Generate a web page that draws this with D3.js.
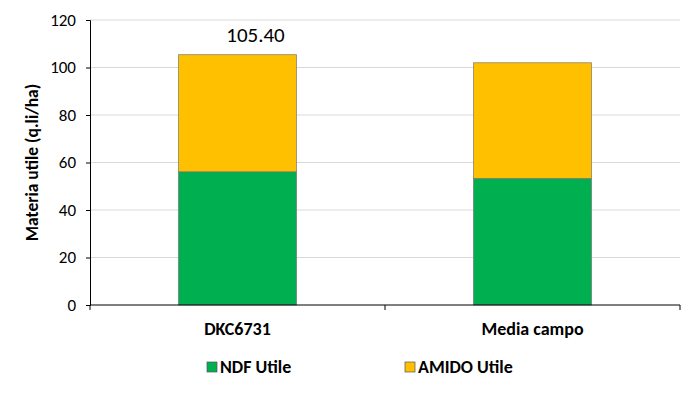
<!DOCTYPE html>
<html>
<head>
<meta charset="utf-8">
<script src="https://cdn.jsdelivr.net/npm/d3@7"></script>
<style>
  body { margin: 0; background: #fff; }
  svg { font-family: Calibri, Carlito, "Open Sans", sans-serif; }
</style>
</head>
<body>
<div id="chart"></div>
<script>
// Data
const categories = ["DKC6731", "Media campo"];
const seriesNames = ["NDF Utile", "AMIDO Utile"];
const ndfValues = [56.1, 53.3];
const amidoValues = [49.3, 48.7];
const yTicks = [0, 20, 40, 60, 80, 100, 120];
const totalLabels = ["105.40", null];

const colors = { "NDF Utile": "#00B050", "AMIDO Utile": "#FFC000" };

const width = 700;
const height = 397;
const margin = { top: 20, right: 20, bottom: 92, left: 90 };

const svg = d3.select("#chart")
  .append("svg")
  .attr("width", width)
  .attr("height", height);

const x = d3.scaleBand()
  .domain(categories)
  .range([margin.left, width - margin.right])
  .paddingInner(0)
  .paddingOuter(0);

const y = d3.scaleLinear()
  .domain([0, 120])
  .range([height - margin.bottom, margin.top]);

// Grid lines
svg.append("g")
  .selectAll("line")
  .data(yTicks.filter((d) => d > 0))
  .enter()
  .append("line")
  .attr("x1", margin.left)
  .attr("x2", width - margin.right)
  .attr("y1", (d) => y(d))
  .attr("y2", (d) => y(d))
  .attr("stroke", "#d9d9d9")
  .attr("stroke-width", 1);

// Stack data
const rows = categories.map((c, i) => ({
  cat: c,
  "NDF Utile": ndfValues[i],
  "AMIDO Utile": amidoValues[i],
}));
const stacked = d3.stack().keys(seriesNames)(rows);

const barFrac = 0.4;
const bw = x.bandwidth() * barFrac;

svg.append("g")
  .selectAll("g")
  .data(stacked)
  .enter()
  .append("g")
  .attr("fill", (s) => colors[s.key])
  .selectAll("rect")
  .data((s) => s)
  .enter()
  .append("rect")
  .attr("x", (d) => x(d.data.cat) + (x.bandwidth() - bw) / 2)
  .attr("width", bw)
  .attr("y", (d) => y(d[1]))
  .attr("height", (d) => y(d[0]) - y(d[1]))
  .attr("stroke", "#6f6f6f")
  .attr("stroke-opacity", 0.8)
  .attr("stroke-width", 0.8);

// Total label
svg.append("g")
  .selectAll("text")
  .data(categories.filter((c, i) => totalLabels[i]))
  .enter()
  .append("text")
  .attr("x", (c) => x(c) + x.bandwidth() / 2 + 18)
  .attr("y", (c) => {
    const i = categories.indexOf(c);
    return y(ndfValues[i] + amidoValues[i]) - 13;
  })
  .attr("text-anchor", "middle")
  .attr("font-size", 21)
  .attr("fill", "#000")
  .text((c) => totalLabels[categories.indexOf(c)]);

// Y axis
const yAxis = d3.axisLeft(y).tickValues(yTicks).tickSize(4).tickPadding(10);
const gy = svg.append("g")
  .attr("transform", `translate(${margin.left},0)`)
  .call(yAxis);
gy.select(".domain").attr("stroke", "#000");
gy.selectAll(".tick line").attr("stroke", "#000");
gy.selectAll(".tick text")
  .attr("font-size", 17)
  .attr("font-family", "Calibri, Carlito, 'Open Sans', sans-serif")
  .attr("fill", "#000");

// X axis baseline with ticks at band edges
const gx = svg.append("g")
  .attr("transform", `translate(0,${y(0)})`);
gx.append("line")
  .attr("x1", margin.left)
  .attr("x2", width - margin.right)
  .attr("stroke", "#000");
const edges = categories.map((c) => x(c)).concat([x.range()[1]]);
gx.selectAll(".edge")
  .data(edges)
  .enter()
  .append("line")
  .attr("x1", (d) => d)
  .attr("x2", (d) => d)
  .attr("y1", 0)
  .attr("y2", 5)
  .attr("stroke", "#000");
gx.selectAll(".cat")
  .data(categories)
  .enter()
  .append("text")
  .attr("x", (c) => x(c) + x.bandwidth() / 2)
  .attr("y", 30)
  .attr("text-anchor", "middle")
  .attr("font-size", 18)
  .attr("font-weight", "bold")
  .attr("fill", "#000")
  .text((c) => c);

// Y axis title
svg.append("text")
  .attr("transform", `translate(38,${(margin.top + y(0)) / 2}) rotate(-90)`)
  .attr("text-anchor", "middle")
  .attr("font-size", 17.5)
  .attr("font-weight", "bold")
  .attr("fill", "#000")
  .text("Materia utile (q.li/ha)");

// Legend
const legendX = [207, 405];
const legend = svg.append("g")
  .selectAll("g")
  .data(seriesNames)
  .enter()
  .append("g")
  .attr("transform", (d, i) => `translate(${legendX[i]},362)`);
legend.append("rect")
  .attr("width", 10)
  .attr("height", 10)
  .attr("fill", (d) => colors[d])
  .attr("stroke", "#555")
  .attr("stroke-width", 0.7);
legend.append("text")
  .attr("x", 13)
  .attr("y", 10.5)
  .attr("font-size", 18)
  .attr("font-weight", "bold")
  .attr("fill", "#000")
  .text((d) => d);
</script>
</body>
</html>
